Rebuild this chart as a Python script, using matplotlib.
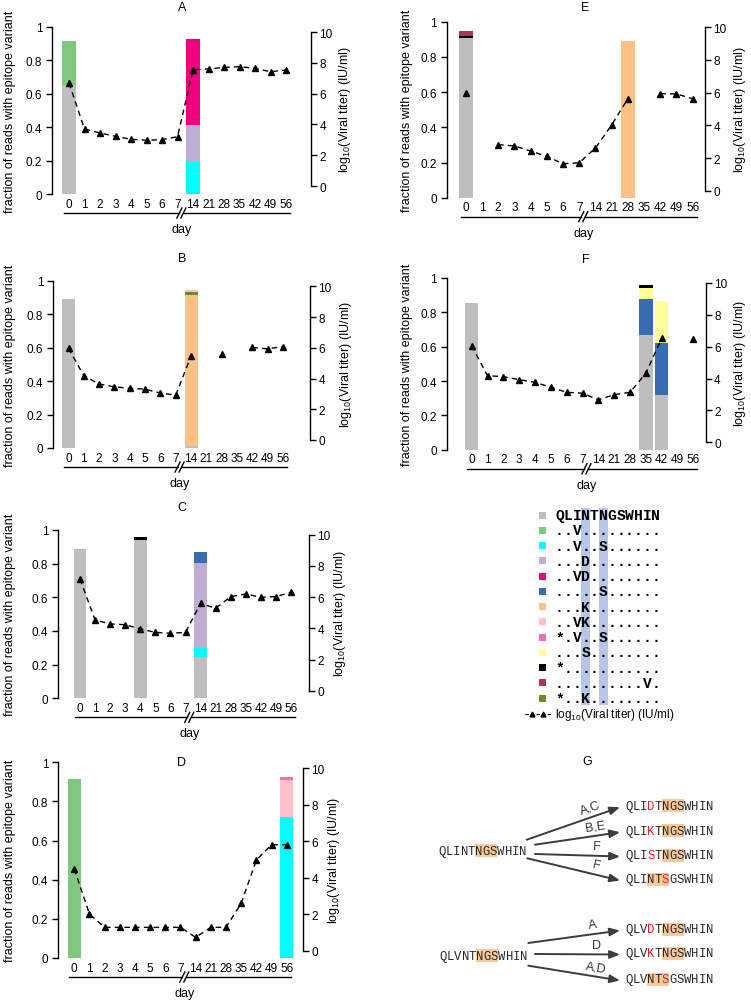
import math
import numpy as np
import matplotlib
matplotlib.use('Agg')
import matplotlib.pyplot as plt
from matplotlib.patches import Rectangle

plt.rcParams['font.family'] = ['Liberation Sans', 'DejaVu Sans']
plt.rcParams['mathtext.default'] = 'regular'

nan = np.nan

# ---- data ----
days = ['0', '1', '2', '3', '4', '5', '6', '7', '14', '21', '28', '35', '42', '49', '56']

variant_seqs = ['QLINTNGSWHIN', '..V.........', '..V..S......', '...D........',
                '..VD........', '.....S......', '...K........', '..VK........',
                '*.V..S......', '...S........', '*...........', '..........V.',
                '*..K........']
variant_colors = ['#bebebe', '#7fc97f', '#00ffff', '#beaed4', '#f0027f', '#386cb0',
                  '#fdc086', '#ffc0cb', '#ff69b4', '#ffff99', '#000000', '#b03060',
                  '#6b8e23']

# stacked bars: day -> [(variant index, fraction), ...] bottom to top
bars_A = {'0': [(0, 0.653), (1, 0.265)],
          '14': [(2, 0.19), (3, 0.223), (4, 0.515)]}
bars_B = {'0': [(0, 0.888)],
          '14': [(0, 0.01), (6, 0.905), (12, 0.015), (7, 0.014)]}
bars_C = {'0': [(0, 0.887)],
          '4': [(0, 0.94), (10, 0.018)],
          '14': [(0, 0.247), (2, 0.052), (3, 0.503), (5, 0.065)]}
bars_D = {'0': [(1, 0.915)],
          '56': [(2, 0.722), (7, 0.187), (8, 0.014)]}
bars_E = {'0': [(0, 0.907), (10, 0.013), (11, 0.025)],
          '28': [(6, 0.889)]}
bars_F = {'0': [(0, 0.854)],
          '35': [(0, 0.67), (5, 0.208), (9, 0.062), (10, 0.018)],
          '42': [(0, 0.32), (5, 0.30), (9, 0.246)]}

# log10 viral titer per day
titer_A = [6.69, 3.70, 3.44, 3.23, 3.03, 2.97, 3.01, 3.20, 7.55, 7.60, 7.70, 7.75, 7.64, 7.42, 7.53]
titer_B = [5.97, 4.18, 3.64, 3.46, 3.36, 3.31, 3.05, 2.92, 5.47, nan, 5.58, nan, 6.02, 5.93, 6.08]
titer_C = [7.16, 4.53, 4.28, 4.23, 3.96, 3.74, 3.68, 3.74, 5.60, 5.28, 6.03, 6.20, 5.99, 6.03, 6.31]
titer_D = [4.48, 2.01, 1.28, 1.28, 1.28, 1.28, 1.28, 1.28, 0.73, 1.28, 1.28, 2.60, 4.97, 5.81, 5.81]
titer_E = [5.96, nan, 2.82, 2.74, 2.43, 2.10, 1.65, 1.71, 2.61, 4.02, 5.63, nan, 5.94, 5.92, 5.63]
titer_F = [6.06, 4.18, 4.12, 3.93, 3.77, 3.45, 3.14, 3.08, 2.67, 2.99, 3.14, 4.33, 6.53, nan, 6.47]

# panel G
g_sources = ['QLINTNGSWHIN', 'QLVNTNGSWHIN']
g_targets = [['QLIDTNGSWHIN', 'QLIKTNGSWHIN', 'QLISTNGSWHIN', 'QLINTSGSWHIN'],
             ['QLVDTNGSWHIN', 'QLVKTNGSWHIN', 'QLVNTSGSWHIN']]
g_labels = [['A,C', 'B,E', 'F', 'F'], ['A', 'D', 'A,D']]

ylab_left = 'fraction of reads with epitope variant'
ylab_right = 'log$_{10}$(Viral titer) (IU/ml)'

# ---- layout (pixels) ----
W, H = 751, 1003
# xl, xr, x0c, x14c, yl1, yl0, yr10, yr0, title x, title y, left label x, right label x
geom = {
    'A': (52, 311, 69, 286, 28, 195, 33, 187, 182, 8, 10, 345),
    'B': (53, 310, 68.5, 283, 281.7, 449, 287.3, 441, 182, 259, 10, 346),
    'C': (58, 309, 80, 291, 531, 699.3, 535.7, 691.7, 182, 508, 10, 340),
    'D': (58, 303, 74.3, 286.7, 763.3, 959, 769.3, 951.7, 182, 763, 10, 334),
    'E': (446.7, 705, 465.7, 692.7, 22.7, 198.7, 28.3, 191.7, 585, 8, 407, 740),
    'F': (446.7, 705.7, 471.7, 693.3, 279, 450.7, 284, 443.3, 585.7, 260, 407, 740),
}

fig = plt.figure(figsize=(W / 100, H / 100), dpi=100)

ov = fig.add_axes([0, 0, 1, 1])
ov.set_xlim(0, W)
ov.set_ylim(H, 0)
ov.axis('off')
ov.patch.set_visible(False)


def draw_panel(name, titer, bars):
    xl, xr, x0c, x14c, yl1, yl0, yr10, yr0, tx, ty, llx, rlx = geom[name]
    top = min(yl1, yr10) - 3
    bot = max(yl0, yr0) + 1
    ax = fig.add_axes([xl / W, 1 - bot / H, (xr - xl) / W, (bot - top) / H])
    ax.patch.set_visible(False)
    s = (x14c - x0c) / 14
    ax.set_xlim(-(x0c - xl) / s, 14 + (xr - x14c) / s)
    sl = yl0 - yl1
    ax.set_ylim(-(bot - yl0) / sl, 1 + (yl1 - top) / sl)

    for day, segs in bars.items():
        i = days.index(day)
        b = 0
        for v, h in segs:
            ax.bar(i, h, bottom=b, width=0.85, color=variant_colors[v], lw=0)
            b += h

    for sp in ['top', 'right', 'bottom']:
        ax.spines[sp].set_visible(False)
    ax.spines['left'].set_bounds(0, 1)
    ax.spines['left'].set_linewidth(1.0)
    ax.set_yticks([0, 0.2, 0.4, 0.6, 0.8, 1], ['0', '0.2', '0.4', '0.6', '0.8', '1'])
    ax.tick_params(axis='y', length=4, width=1.0, pad=3, labelsize=8.5)
    ax.set_xticks(range(len(days)), days)
    ax.tick_params(axis='x', length=0, pad=2, labelsize=8.5)

    ax2 = ax.twinx()
    sr = (yr0 - yr10) / 10
    ax2.set_ylim(-(bot - yr0) / sr, 10 + (yr10 - top) / sr)
    ax2.plot(range(len(days)), titer, color='black', ls='--', dashes=(4, 3), lw=1.0,
             marker='^', ms=4.5, mec='black', mfc='black')
    for sp in ['top', 'left', 'bottom']:
        ax2.spines[sp].set_visible(False)
    ax2.spines['right'].set_bounds(0, 10)
    ax2.spines['right'].set_linewidth(1.0)
    ax2.set_yticks(range(0, 11, 2))
    ax2.tick_params(axis='y', length=4, width=1.0, pad=2, labelsize=8.5)

    # day axis with break
    yb = yl0 + 19
    xa, xb = x0c - 5, x14c + 4
    xbr = x0c + 7.25 * s
    ov.plot([xa, xbr - 2], [yb, yb], color='black', lw=1.0)
    ov.plot([xbr + 2, xb], [yb, yb], color='black', lw=1.0)
    for xs in (xbr - 2, xbr + 2):
        ov.plot([xs - 2.5, xs + 2.5], [yb + 5, yb - 5], color='black', lw=1.0)
    ov.text(xbr, yl0 + 35, 'day', ha='center', va='center', fontsize=9)

    ov.text(tx, ty, name, ha='center', va='center', fontsize=9)
    ov.text(llx, (yl1 + yl0) / 2, ylab_left, rotation=90, ha='center', va='center', fontsize=9)
    ov.text(rlx, (yr10 + yr0) / 2, ylab_right, rotation=90, ha='center', va='center', fontsize=9)


draw_panel('A', titer_A, bars_A)
draw_panel('B', titer_B, bars_B)
draw_panel('C', titer_C, bars_C)
draw_panel('D', titer_D, bars_D)
draw_panel('E', titer_E, bars_E)
draw_panel('F', titer_F, bars_F)

# ---- legend with aligned sequences ----
cw = 8.75
lx0, ly0, ldy = 555, 516, 15.27
for j in (3, 5):
    ov.add_patch(Rectangle((lx0 + j * cw, ly0 - 7), cw, 12 * ldy + 14,
                           color='#b7c5e7', lw=0, zorder=1))
for i, (seq, col) in enumerate(zip(variant_seqs, variant_colors)):
    y = ly0 + i * ldy
    ov.add_patch(Rectangle((538.5, y - 3.5), 7, 7, color=col, lw=0, zorder=2))
    for j, ch in enumerate(seq):
        ov.text(lx0 + (j + 0.5) * cw, y, ch, family='Liberation Mono', weight='bold',
                fontsize=10.5, ha='center', va='center', zorder=3)
ly = 715
ov.plot([525, 552], [ly, ly], color='black', ls='--', dashes=(3, 2), lw=0.8)
ov.plot([532, 543], [ly, ly], ls='none', marker='^', ms=3.5, color='black')
ov.text(555, ly, ylab_right, ha='left', va='center', fontsize=8.5)

# ---- panel G ----
ov.text(586.7, 762, 'G', ha='center', va='center', fontsize=9)
gcw = 7.36


def draw_seq(x0, y, seq, ref):
    k = seq.find('NGS')
    if k < 0:
        k = seq.find('NTS')
    ov.add_patch(Rectangle((x0 + k * gcw, y - 6.5), 3 * gcw, 13, color='#f9c99b', lw=0, zorder=1))
    for j, ch in enumerate(seq):
        c = '#e3232a' if ch != ref[j] else '#262626'
        ov.text(x0 + (j + 0.5) * gcw, y, ch, family='Liberation Mono', fontsize=8.8,
                color=c, ha='center', va='center', zorder=3)


src_pos = [(438.5, 851.7), (439.5, 956.7)]
tgt_x = 625
tgt_y = [[806.7, 831.7, 856, 880], [930, 954, 980]]
arrow_start = [[(526.7, 840.7), (535, 845.7), (535, 855), (527.3, 859.3)],
               [(528.3, 944), (535, 955), (528.3, 966.7)]]

for g in range(2):
    src = g_sources[g]
    draw_seq(src_pos[g][0], src_pos[g][1], src, src)
    for t, tgt in enumerate(g_targets[g]):
        yt = tgt_y[g][t]
        draw_seq(tgt_x, yt, tgt, src)
        x1, y1 = arrow_start[g][t]
        x2, y2 = tgt_x - 5, yt + 1.5
        ov.annotate('', xy=(x2, y2), xytext=(x1, y1),
                    arrowprops=dict(arrowstyle='-|>,head_length=0.5,head_width=0.2',
                                    color='#3c3c3c', lw=1.4, shrinkA=0, shrinkB=0,
                                    mutation_scale=12))
        dx, dy = x2 - x1, y2 - y1
        L = math.hypot(dx, dy)
        mx, my = x1 + 0.72 * dx, y1 + 0.72 * dy
        lx, lyy = mx + 9.5 * dy / L, my - 9.5 * dx / L
        ang = -math.degrees(math.atan2(dy, dx))
        ov.text(lx, lyy, g_labels[g][t], rotation=ang, rotation_mode='anchor',
                ha='center', va='center', fontsize=9, color='#333333')

fig.savefig('out.png', dpi=100)
